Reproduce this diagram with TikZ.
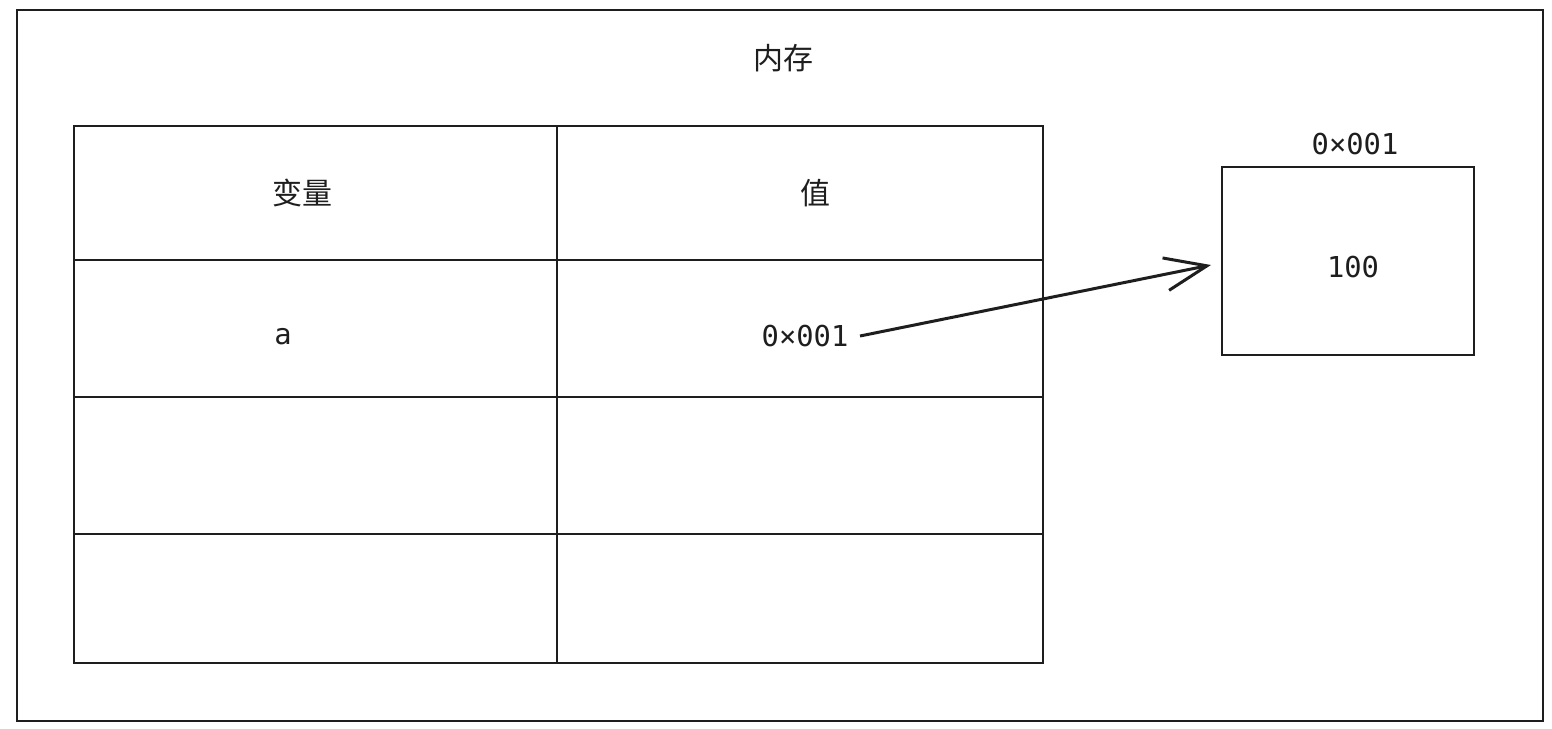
\documentclass[tikz,border=0pt]{standalone}
\usepackage{fontspec}
\setmonofont{DejaVu Sans Mono}
\newfontfamily\cjk{Noto Sans CJK SC}
\usetikzlibrary{arrows.meta, positioning}
\definecolor{tinta}{HTML}{1E1E1E}

\begin{document}
\begin{tikzpicture}[x=0.5pt, y=-0.5pt, line width=1pt, draw=tinta, text=tinta,
	etiqueta/.style={font=\cjk\fontsize{15}{18}\selectfont},
	codigo/.style={font=\ttfamily\fontsize{14.4}{17}\selectfont}]
	\useasboundingbox (0,0) rectangle (1552,728);
	
	% Marco de la memoria
	\draw (17,10) rectangle (1543,721);
	\node[etiqueta] (memoria) at (783,58) {内存};
	
	% Tabla de variables
	\draw (74,126) rectangle (1043,663);
	\draw (557,126) -- (557,663);
	\foreach \y in {260,397,534}
		\draw (74,\y) -- (1043,\y);
	\node[etiqueta] (variable) at (302,193) {变量};
	\node[etiqueta] (valor) at (815,193) {值};
	\node[codigo] (nombre) at (283,337) {a};
	\node[codigo] (direccion) at (805,336) {0×001};
	
	% Celda de memoria
	\node[draw, minimum width=126pt, minimum height=94pt, inner sep=0pt] (celda) at (1348,261) {};
	\node[codigo] (contenido) at (1353,267) {100};
	\node[codigo] (etiquetaceld) at (1355,144) {0×001};
	
	% Flecha hacia la celda
	\draw[-{Straight Barb[length=21pt,width=16.5pt]}, line width=1.5pt]
		([xshift=2pt]direccion.east) -- ([xshift=-5pt,yshift=-2pt]celda.west);
\end{tikzpicture}
\end{document}
